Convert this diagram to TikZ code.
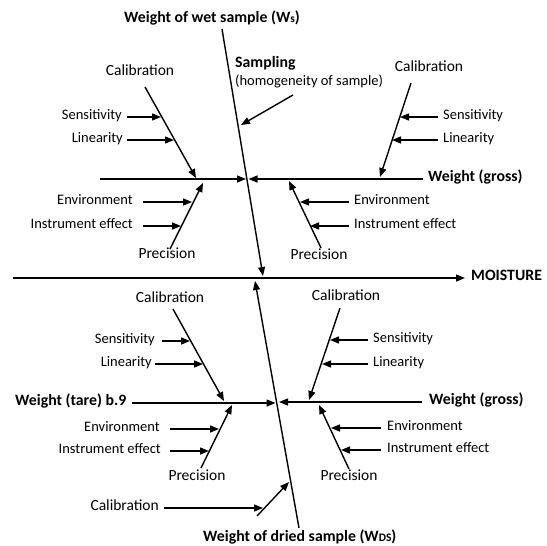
\documentclass[tikz,border=0pt]{standalone}
\usepackage{fontspec}
\setmainfont{Carlito}
\usetikzlibrary{arrows.meta}
\begin{document}
\begin{tikzpicture}[x=1pt,y=-1pt,
  bone/.style={line width=1.4pt},
  arr/.style={line width=1.4pt,-{Triangle[length=9pt,width=7pt]}},
  lbl/.style={font=\fontsize{14.5}{17}\selectfont, inner sep=0pt, text height=0.7em, text depth=0.2em},
  biglbl/.style={lbl, font=\fontsize{15.5}{18}\selectfont},
  blbl/.style={lbl, font=\fontsize{15.8}{18}\selectfont\bfseries}]
\useasboundingbox (0,0) rectangle (546,546);

% ---------- main spines ----------
\node[blbl] (wws) at (212,20) {Weight of wet sample (W{\fontsize{11.5}{12}\selectfont s})};
\coordinate (ws1) at (222,29);
\coordinate (ws2) at (263,276);
\draw[arr] (ws1) -- (ws2);

\coordinate (m0) at (13,278);
\node[blbl,anchor=west] (moist) at (471,278) {MOISTURE};
\draw[arr] (m0) -- ([xshift=-6pt]moist.west);

\node[blbl,anchor=west] (wds) at (203,539) {Weight of dried sample (W{\fontsize{11.5}{12}\selectfont DS})};
\coordinate (wd1) at (299,528);
\coordinate (wd2) at (255,281);
\draw[arr] (wd1) -- (wd2);

% ---------- sampling ----------
\node[blbl,anchor=west] (samp) at (235,65) {Sampling};
\node[lbl,anchor=west] (homo) at (235,83) {(homogeneity of sample)};
\coordinate (sa0) at (293,95);
\coordinate (sa1) at (241,125);
\draw[arr] (sa0) -- (sa1);

% ---------- upper left ----------
\coordinate (ul0) at (100,179);
\coordinate (ul1) at (246,179);
\draw[arr] (ul0) -- (ul1);
\node[biglbl] (calUL) at (140,73) {Calibration};
\coordinate (cul0) at (145,87);
\coordinate (cul1) at (196,178);
\draw[arr] (cul0) -- (cul1);
\node[lbl,anchor=east] (senUL) at (122,117) {Sensitivity};
\coordinate (tsenUL) at (161,117);
\draw[arr] ([xshift=5pt]senUL.east) -- (tsenUL);
\node[lbl,anchor=east] (linUL) at (123,140) {Linearity};
\coordinate (tlinUL) at (174,140);
\draw[arr] ([xshift=4pt]linUL.east) -- (tlinUL);
\node[biglbl] (preUL) at (167,256) {Precision};
\coordinate (pul0) at (170,249);
\coordinate (pul1) at (203,183);
\draw[arr] (pul0) -- (pul1);
\node[lbl,anchor=east] (envUL) at (133,202) {Environment};
\coordinate (tenvUL) at (192,202);
\draw[arr] ([xshift=10pt]envUL.east) -- (tenvUL);
\node[lbl,anchor=east] (insUL) at (133,226) {Instrument effect};
\coordinate (tinsUL) at (181,226);
\draw[arr] ([xshift=10pt]insUL.east) -- (tinsUL);

% ---------- upper right ----------
\node[blbl,anchor=west] (wgU) at (428,179) {Weight (gross)};
\coordinate (ur1) at (248.5,179);
\draw[arr] ([xshift=-5pt]wgU.west) -- (ur1);
\node[biglbl] (calUR) at (429,69) {Calibration};
\coordinate (cur0) at (411,83);
\coordinate (cur1) at (380,177);
\draw[arr] (cur0) -- (cur1);
\node[lbl,anchor=west] (senUR) at (443,117) {Sensitivity};
\coordinate (tsenUR) at (400,117);
\draw[arr] ([xshift=-5pt]senUR.west) -- (tsenUR);
\node[lbl,anchor=west] (linUR) at (443,140) {Linearity};
\coordinate (tlinUR) at (392,140);
\draw[arr] ([xshift=-5pt]linUR.west) -- (tlinUR);
\node[biglbl] (preUR) at (319,257) {Precision};
\coordinate (pur0) at (321,248);
\coordinate (pur1) at (289,181);
\draw[arr] (pur0) -- (pur1);
\node[lbl,anchor=west] (envUR) at (354,202) {Environment};
\coordinate (tenvUR) at (300,202);
\draw[arr] ([xshift=-5pt]envUR.west) -- (tenvUR);
\node[lbl,anchor=west] (insUR) at (354,226) {Instrument effect};
\coordinate (tinsUR) at (310,226);
\draw[arr] ([xshift=-5pt]insUR.west) -- (tinsUR);

% ---------- lower left ----------
\node[blbl,anchor=west] (wt) at (15,403) {Weight (tare) b.9};
\coordinate (ll1) at (275.5,403);
\draw[arr] ([xshift=5pt]wt.east) -- (ll1);
\node[biglbl] (calLL) at (170,300) {Calibration};
\coordinate (cll0) at (173,309);
\coordinate (cll1) at (224,401);
\draw[arr] (cll0) -- (cll1);
\node[lbl,anchor=east] (senLL) at (155,341) {Sensitivity};
\coordinate (tsenLL) at (190,341);
\draw[arr] ([xshift=7pt]senLL.east) -- (tsenLL);
\node[lbl,anchor=east] (linLL) at (152,364) {Linearity};
\coordinate (tlinLL) at (203,364);
\draw[arr] ([xshift=3pt]linLL.east) -- (tlinLL);
\node[biglbl] (preLL) at (197,478) {Precision};
\coordinate (pll0) at (201,468);
\coordinate (pll1) at (232,405);
\draw[arr] (pll0) -- (pll1);
\node[lbl,anchor=east] (envLL) at (160,429) {Environment};
\coordinate (tenvLL) at (219,429);
\draw[arr] ([xshift=10pt]envLL.east) -- (tenvLL);
\node[lbl,anchor=east] (insLL) at (161,451) {Instrument effect};
\coordinate (tinsLL) at (209,451);
\draw[arr] ([xshift=9pt]insLL.east) -- (tinsLL);

% ---------- lower right ----------
\node[blbl,anchor=west] (wgL) at (429,402) {Weight (gross)};
\coordinate (lr1) at (279,402);
\draw[arr] ([xshift=-7pt]wgL.west) -- (lr1);
\node[biglbl] (calLR) at (346,298) {Calibration};
\coordinate (clr0) at (340,308);
\coordinate (clr1) at (309,400);
\draw[arr] (clr0) -- (clr1);
\node[lbl,anchor=west] (senLR) at (373,340) {Sensitivity};
\coordinate (tsenLR) at (330,340);
\draw[arr] ([xshift=-5pt]senLR.west) -- (tsenLR);
\node[lbl,anchor=west] (linLR) at (373,364) {Linearity};
\coordinate (tlinLR) at (322,364);
\draw[arr] ([xshift=-5pt]linLR.west) -- (tlinLR);
\node[biglbl] (preLR) at (349,478) {Precision};
\coordinate (plr0) at (349,469);
\coordinate (plr1) at (319,405);
\draw[arr] (plr0) -- (plr1);
\node[lbl,anchor=west] (envLR) at (387,428) {Environment};
\coordinate (tenvLR) at (331,428);
\draw[arr] ([xshift=-6pt]envLR.west) -- (tenvLR);
\node[lbl,anchor=west] (insLR) at (387,450) {Instrument effect};
\coordinate (tinsLR) at (341,450);
\draw[arr] ([xshift=-6pt]insLR.west) -- (tinsLR);

% ---------- bottom calibration ----------
\coordinate (bc0) at (257,516);
\coordinate (bc1) at (289,482);
\draw[arr] (bc0) -- (bc1);
\node[biglbl,anchor=east] (calB) at (159,508) {Calibration};
\coordinate (tcalB) at (263,508);
\draw[arr] ([xshift=5pt]calB.east) -- (tcalB);
\end{tikzpicture}
\end{document}
